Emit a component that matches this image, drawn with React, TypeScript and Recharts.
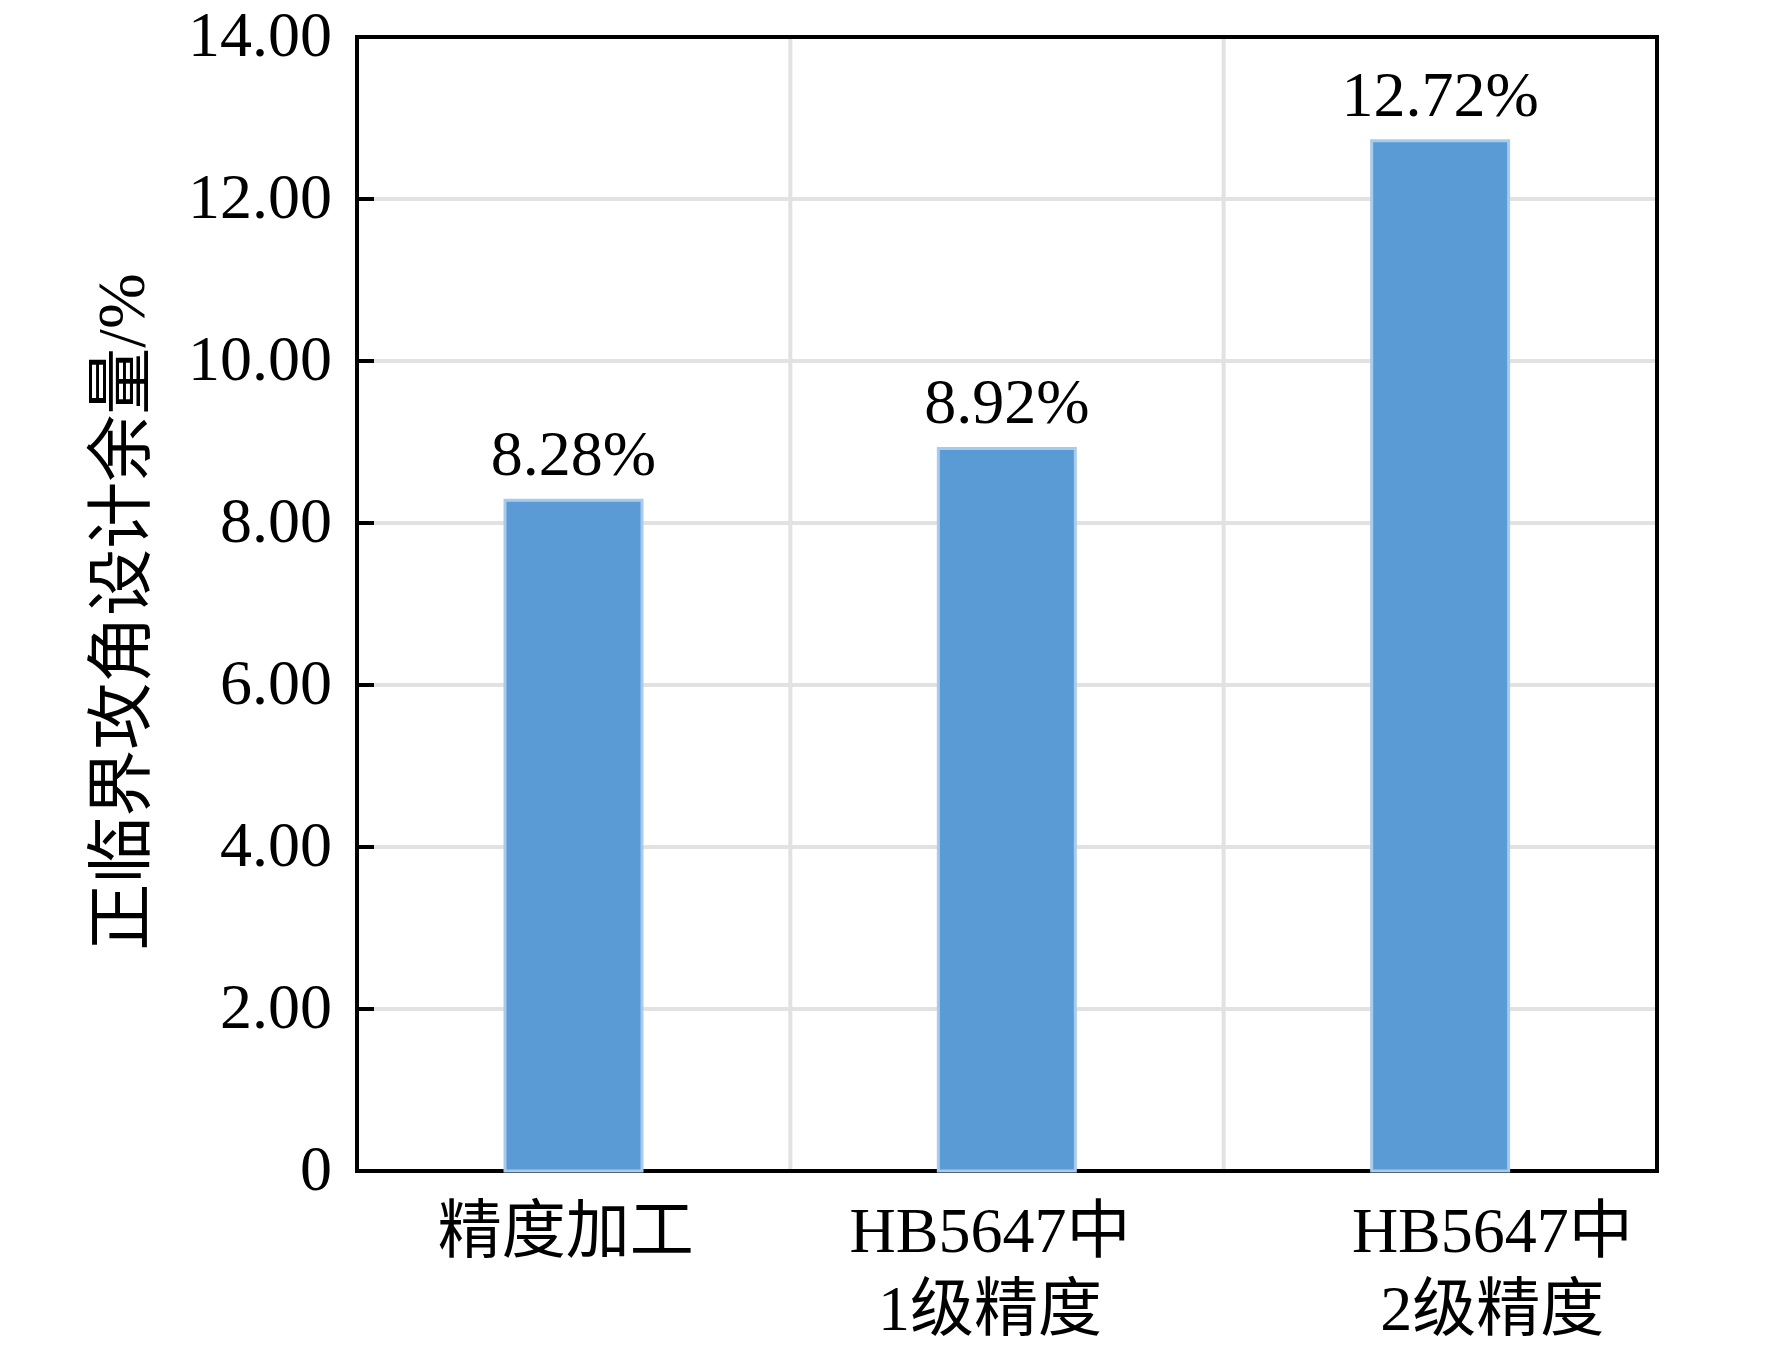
import React from "react"
import { BarChart, Bar, XAxis, YAxis, CartesianGrid, ReferenceArea, LabelList } from "recharts"

const CATEGORIES = ["精度加工", "HB5647中\n1级精度", "HB5647中\n2级精度"]
const MARGIN_VALUES = [8.28, 8.92, 12.72]
const Y_TICKS = [0, 2, 4, 6, 8, 10, 12, 14]
const Y_LABEL = "正临界攻角设计余量/%"

const data = CATEGORIES.map((name, i) => ({ name, value: MARGIN_VALUES[i] }))

const FONT = "'Liberation Serif', 'Times New Roman', 'Noto Sans CJK SC', serif"
// the original puts the category labels a bit off the bar centres
const TICK_SHIFT = [-8, -17, 52]

function YTick({ x, y, payload }: any) {
  const v = payload.value as number
  return (
    <g>
      <line x1={x + 25} x2={x + 42} y1={y} y2={y} stroke="#000" strokeWidth={4} />
      <text x={x} y={y} dy={19} textAnchor="end" fontFamily={FONT} fontSize={64} fill="#000">
        {v === 0 ? "0" : v.toFixed(2)}
      </text>
    </g>
  )
}

function XTick({ x, y, payload, index }: any) {
  const lines = String(payload.value).split("\n")
  const cx = x + (TICK_SHIFT[index] ?? 0)
  return (
    <text x={cx} y={y} textAnchor="middle" fontFamily={FONT} fontSize={64} fill="#000">
      {lines.map((l, i) => (
        <tspan key={i} x={cx} y={y + 81 + i * 78}>
          {l}
        </tspan>
      ))}
    </text>
  )
}

function YLabel({ viewBox }: any) {
  const cx = viewBox.x + 121
  const cy = viewBox.y + viewBox.height / 2 + 8
  return (
    <text
      x={cx}
      y={cy}
      transform={`rotate(-90 ${cx} ${cy})`}
      textAnchor="middle"
      dominantBaseline="central"
      fontFamily={FONT}
      fontSize={67}
      fill="#000"
    >
      {Y_LABEL}
    </text>
  )
}

export default function App() {
  return (
    <div style={{ position: "absolute", left: 0, top: 0, width: 1772, height: 1346, background: "#fff" }}>
      <BarChart width={1772} height={1346} data={data} margin={{ top: 37, right: 115, bottom: 0, left: 0 }}>
        <CartesianGrid
          stroke="#e2e2e2"
          strokeWidth={4}
          verticalCoordinatesGenerator={({ offset }: any) =>
            [1, 2].map(i => offset.left + (offset.width * i) / CATEGORIES.length)
          }
        />
        <XAxis
          dataKey="name"
          axisLine={false}
          tickLine={false}
          tickSize={0}
          tickMargin={0}
          height={175}
          interval={0}
          tick={<XTick />}
        />
        <YAxis
          domain={[0, 14]}
          ticks={Y_TICKS}
          axisLine={false}
          tickLine={false}
          tickSize={0}
          tickMargin={25}
          width={357}
          tick={<YTick />}
          label={<YLabel />}
        />
        <Bar dataKey="value" fill="#5b9bd5" stroke="#a9cbeb" strokeWidth={3} barSize={137} isAnimationActive={false}>
          <LabelList
            dataKey="value"
            position="top"
            offset={25}
            formatter={(v: any) => `${Number(v).toFixed(2)}%`}
            style={{ fontFamily: FONT, fontSize: 64, fill: "#000" }}
          />
        </Bar>
        <ReferenceArea y1={0} y2={14} fill="none" stroke="#000" strokeWidth={4} ifOverflow="visible" />
      </BarChart>
    </div>
  )
}
